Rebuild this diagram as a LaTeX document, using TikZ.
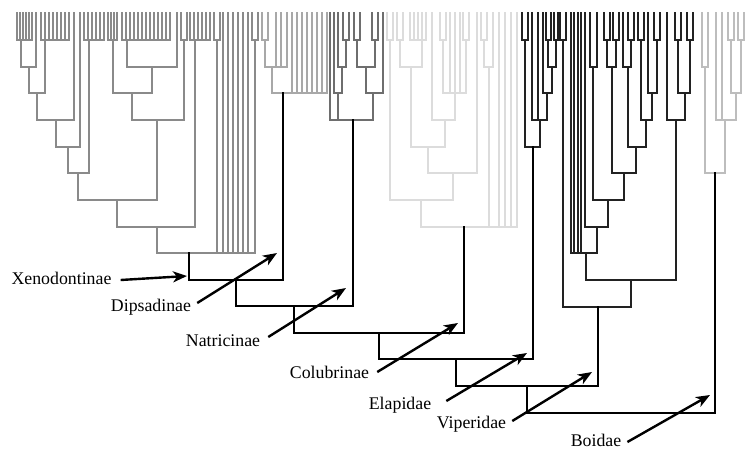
\documentclass[tikz,border=0pt]{standalone}
\usepackage{fontspec}
\setmainfont{Liberation Serif}
\usetikzlibrary{arrows.meta}

\definecolor{xenogray}{HTML}{8A8A8A}
\definecolor{dipsgray}{HTML}{A8A8A8}
\definecolor{natrgray}{HTML}{6E6E6E}
\definecolor{colugray}{HTML}{DCDCDC}
\definecolor{elapgray}{HTML}{222222}
\definecolor{boidgray}{HTML}{BDBDBD}

% bar at one level, with the stems of its branches (x/level)
\newcommand{\cladebar}[4]{%
  \draw (#1,#3) -- (#2,#3);
  \foreach \cx/\cy in {#4} \draw (\cx,\cy) -- (\cx,#3);}
% comb of tips joined at the first level
\newcommand{\tipcomb}[3]{%
  \foreach \tx in {#1,#2,...,#3} \draw (\tx,13) -- (\tx,40);
  \draw (#1,40) -- (#3,40);}
% two tips joined at the first level
\newcommand{\tippair}[2]{\cladebar{#1}{#2}{40}{#1/13,#2/13}}

\begin{document}
\begin{tikzpicture}
[ x=1pt, y=-1pt
, lineage/.style={line width=1.3pt, line cap=rect}
, xeno/.style={lineage, draw=xenogray}
, dips/.style={lineage, draw=dipsgray}
, natr/.style={lineage, draw=natrgray}
, colu/.style={lineage, draw=colugray}
, elap/.style={lineage, draw=elapgray}
, boid/.style={lineage, draw=boidgray}
, spine/.style={line width=1.6pt, draw=black, line cap=rect}
, pointer/.style={line width=2.4pt, -{Stealth[length=14pt, width=11pt, inset=4pt]}}
, taxon/.style={inner sep=0pt, anchor=base, font=\fontsize{17.8}{20}\selectfont}
]
\useasboundingbox (0,0) rectangle (749,450);

% Xenodontinae:
\begin{scope}[xeno]
\tipcomb{17}{20}{32}
\cladebar{21}{36}{67}{21/40,36/13}
\tipcomb{41}{45}{69}
\cladebar{29}{45}{93}{29/67,45/40}
\cladebar{37}{74}{120}{37/93,74/13}
\cladebar{56}{80}{147}{56/120,80/13}
\tipcomb{84}{88}{104}
\cladebar{68}{89}{173}{68/147,89/40}
\tipcomb{108}{111}{117}
\tipcomb{122}{126}{170}
\cladebar{127}{177}{67}{127/40,177/13}
\cladebar{113}{152}{93}{113/40,152/67}
\tippair{181}{187}
\cladebar{132}{184}{120}{132/93,184/40}
\cladebar{78}{157}{200}{78/173,157/120}
\tipcomb{190}{194}{210}
\cladebar{117}{195}{227}{117/200,195/40}
\tippair{214}{220}
\tippair{252}{258}
\cladebar{157}{255}{253}{157/227,217/40,223/13,228/13,233/13,238/13,243/13,248/13,255/40}
\end{scope}

% Dipsadinae:
\begin{scope}[dips]
\tippair{262}{268}
\cladebar{265}{287}{67}{265/40,276/13,281/13,287/13}
\cladebar{272}{327}{93}{272/67,292/13,297/13,302/13,307/13,312/13,317/13,322/13,327/13}
\end{scope}

% Natricinae:
\begin{scope}[natr]
\tippair{343}{349}
\cladebar{338}{346}{67}{338/13,346/40}
\cladebar{334}{342}{93}{334/13,342/67}
\tippair{354}{360}
\tippair{372}{378}
\cladebar{357}{375}{67}{357/40,375/40}
\cladebar{366}{383}{93}{366/67,383/13}
\cladebar{330}{373}{120}{330/13,338/93,373/93}
\end{scope}

% Colubrinae:
\begin{scope}[colu]
\tippair{387}{393}
\tippair{397}{403}
\tipcomb{410}{414}{426}
\cladebar{400}{422}{67}{400/40,422/40}
\tippair{440}{446}
\tippair{463}{469}
\cladebar{443}{466}{93}{443/40,450/13,455/13,460/13,466/40}
\cladebar{432}{455}{120}{432/13,455/93}
\cladebar{411}{445}{147}{411/67,445/120}
\cladebar{428}{477}{173}{428/147,477/13}
\cladebar{390}{453}{200}{390/40,453/173}
\tippair{481}{487}
\cladebar{484}{493}{67}{484/40,493/13}
\cladebar{421}{517}{227}{421/200,489/67,499/13,505/13,511/13,517/13}
\end{scope}

% Elapidae and Viperidae:
\begin{scope}[elap]
\tippair{522}{528}
\tippair{546}{551}
\tippair{554}{558}
\cladebar{548}{556}{67}{548/40,556/40}
\cladebar{543}{552}{93}{543/13,552/67}
\cladebar{532}{547}{120}{532/13,538/13,547/93}
\cladebar{525}{540}{147}{525/40,540/120}
\tippair{560}{566}
\cladebar{590}{597}{67}{590/13,597/13}
\tippair{604}{610}
\tippair{613}{619}
\cladebar{607}{616}{67}{607/40,616/40}
\tippair{628}{634}
\cladebar{623}{631}{67}{623/13,631/40}
\tippair{638}{644}
\tippair{654}{660}
\cladebar{648}{657}{93}{648/13,657/40}
\cladebar{641}{652}{120}{641/40,652/93}
\cladebar{628}{646}{147}{628/67,646/120}
\cladebar{612}{636}{173}{612/67,636/147}
\cladebar{593}{624}{200}{593/67,624/173}
\cladebar{585}{608}{227}{585/13,608/200}
\cladebar{571}{597}{253}{571/13,574/13,578/13,581/13,597/227}
\tippair{675}{681}
\tippair{687}{693}
\cladebar{678}{690}{93}{678/40,690/40}
\cladebar{667}{685}{120}{667/13,685/93}
\cladebar{586}{676}{280}{586/253,676/120}
\cladebar{563}{631}{307}{563/40,631/280}
\end{scope}

% Boidae:
\begin{scope}[boid]
\cladebar{702}{708}{67}{702/13,708/13}
\tippair{728}{734}
\tippair{738}{744}
\cladebar{731}{741}{93}{731/40,741/40}
\cladebar{716}{736}{120}{716/13,722/13,736/93}
\cladebar{705}{725}{173}{705/67,725/120}
\end{scope}

% Backbone:
\coordinate (xeno) at (189,253);
\coordinate (dips) at (283,93);
\coordinate (natr) at (353,120);
\coordinate (colu) at (464,227);
\coordinate (elap) at (533,147);
\coordinate (vipe) at (598,307);
\coordinate (boid) at (715,173);
\coordinate (k1) at (236,280);
\coordinate (k2) at (294,306);
\coordinate (k3) at (379,333);
\coordinate (k4) at (456,359);
\coordinate (k5) at (527,386);
\coordinate (k6) at (620,413);
\draw [spine] (xeno) |- (dips |- k1) -- (dips);
\draw [spine] (k1) |- (natr |- k2) -- (natr);
\draw [spine] (k2) |- (colu |- k3) -- (colu);
\draw [spine] (k3) |- (elap |- k4) -- (elap);
\draw [spine] (k4) |- (vipe |- k5) -- (vipe);
\draw [spine] (k5) |- (boid |- k6) -- (boid);

% Labels:
\node (xenoLabel) [taxon] at (61.5,284.5) {Xenodontinae};
\node (dipsLabel) [taxon] at (151,311.7) {Dipsadinae};
\node (natrLabel) [taxon] at (223,346.7) {Natricinae};
\node (coluLabel) [taxon] at (329.5,378.3) {Colubrinae};
\node (elapLabel) [taxon] at (400,409) {Elapidae};
\node (vipeLabel) [taxon] at (471.5,428) {Viperidae};
\node (boidLabel) [taxon] at (596,446) {Boidae};
\coordinate (xenoTip) at (187,276);
\coordinate (dipsTip) at (277,253);
\coordinate (natrTip) at (346,288);
\coordinate (coluTip) at (458,323);
\coordinate (elapTip) at (527,353);
\coordinate (vipeTip) at (592,372);
\coordinate (boidTip) at (710,395);
\draw [pointer] ([shift={(9pt,4.5pt)}]xenoLabel.base east) -- (xenoTip);
\draw [pointer] ([shift={(6pt,8.7pt)}]dipsLabel.base east) -- (dipsTip);
\draw [pointer] ([shift={(8pt,9.7pt)}]natrLabel.base east) -- (natrTip);
\draw [pointer] ([shift={(8pt,6.3pt)}]coluLabel.base east) -- (coluTip);
\draw [pointer] ([shift={(15pt,8pt)}]elapLabel.base east) -- (elapTip);
\draw [pointer] ([shift={(6pt,7pt)}]vipeLabel.base east) -- (vipeTip);
\draw [pointer] ([shift={(6pt,4pt)}]boidLabel.base east) -- (boidTip);
\end{tikzpicture}
\end{document}
